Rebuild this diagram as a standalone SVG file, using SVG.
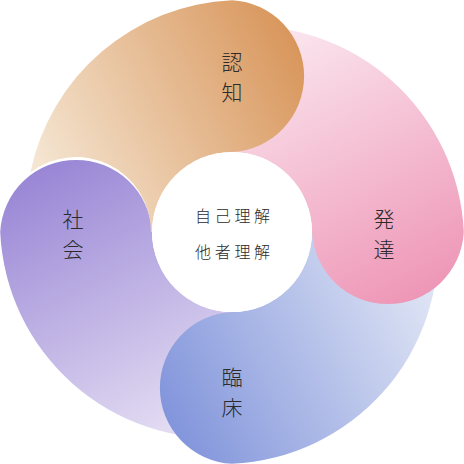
<svg xmlns="http://www.w3.org/2000/svg" width="464" height="464" viewBox="0 0 464 464">
<defs>
<linearGradient id="gO" gradientUnits="userSpaceOnUse" x1="40" y1="175" x2="300" y2="40">
<stop offset="0" stop-color="#f5e6d3"/><stop offset="1" stop-color="#d8955a"/>
</linearGradient>
<linearGradient id="gP" gradientUnits="userSpaceOnUse" x1="40" y1="175" x2="300" y2="40">
<stop offset="0" stop-color="#fae3ec"/><stop offset="1" stop-color="#ee95b6"/>
</linearGradient>
<linearGradient id="gB" gradientUnits="userSpaceOnUse" x1="40" y1="175" x2="300" y2="40">
<stop offset="0" stop-color="#dde3f4"/><stop offset="1" stop-color="#8194db"/>
</linearGradient>
<linearGradient id="gV" gradientUnits="userSpaceOnUse" x1="40" y1="175" x2="300" y2="40">
<stop offset="0" stop-color="#e2dbf2"/><stop offset="1" stop-color="#9885d5"/>
</linearGradient>
</defs>
<style>
.lbl{font-family:"Noto Sans CJK JP","Noto Sans CJK SC",sans-serif;font-size:21px;fill:#2b2b2b;text-anchor:middle;font-weight:300}
.ctr{font-family:"Noto Sans CJK JP","Noto Sans CJK SC",sans-serif;font-size:16px;fill:#2b2b2b;letter-spacing:3.7px;font-weight:300}
</style>
<g id="node-shakai">
<path transform="rotate(-90 232 232)" fill="url(#gV)" d="M152 232 L26.6 232 A215.8 215.8 0 0 1 232 0.2 A76 76 0 0 1 232 152 A80 80 0 0 0 152 232 Z"/>
<text class="lbl" x="73" y="227">社</text>
<text class="lbl" x="73" y="257">会</text>
</g>
<g id="node-rinsho">
<path transform="rotate(180 232 232)" fill="url(#gB)" d="M152 232 L26.6 232 A215.8 215.8 0 0 1 232 0.2 A76 76 0 0 1 232 152 A80 80 0 0 0 152 232 Z"/>
<text class="lbl" x="232" y="385">臨</text>
<text class="lbl" x="232" y="415">床</text>
</g>
<g id="node-hattatsu">
<path transform="rotate(90 232 232)" fill="url(#gP)" d="M152 232 L26.6 232 A215.8 215.8 0 0 1 232 0.2 A76 76 0 0 1 232 152 A80 80 0 0 0 152 232 Z"/>
<text class="lbl" x="384" y="227">発</text>
<text class="lbl" x="384" y="257">達</text>
</g>
<g id="node-ninchi">
<path fill="url(#gO)" d="M151 232 A75 75 0 0 0 30.4 172.5 A215.8 215.8 0 0 1 232 0.2 A76 76 0 0 1 232 152 A80 80 0 0 0 152 232 Z"/>
<text class="lbl" x="232" y="70">認</text>
<text class="lbl" x="232" y="100">知</text>
</g>
<g id="node-center">
<circle cx="232" cy="232" r="80" fill="#ffffff"/>
<text class="ctr" x="195" y="221.5">自己理解</text>
<text class="ctr" x="195" y="258">他者理解</text>
</g>
<g id="connectors"></g>
</svg>
